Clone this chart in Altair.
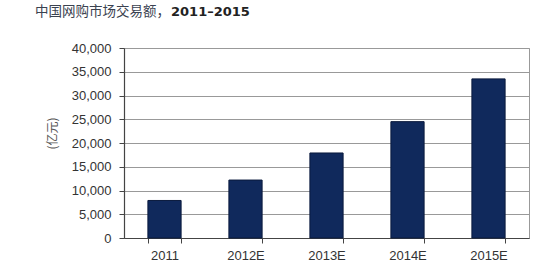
import altair as alt
import pandas as pd

years = ["2011", "2012E", "2013E", "2014E", "2015E"]
values = [7900, 12200, 17900, 24500, 33500]
y_ticks = [0, 5000, 10000, 15000, 20000, 25000, 30000, 35000, 40000]
title_cn = "中国网购市场交易额，"
title_years = "2011–2015"
y_title = "(亿元)"

df = pd.DataFrame({"year": years, "value": values})

W, H = 405, 190

bars = alt.Chart(df).mark_bar(
    color="#10295c", stroke="#0a1a3d", strokeWidth=1
).encode(
    x=alt.X("year:N", sort=years, title=None,
            scale=alt.Scale(paddingInner=0.59, paddingOuter=0.295),
            axis=alt.Axis(labelAngle=0, tickBand="extent", domainColor="#444",
                          tickColor="#444", tickSize=5, labelPadding=6,
                          labelFont="Liberation Sans", labelFontSize=13,
                          labelColor="#333", domainWidth=1.2)),
    y=alt.Y("value:Q", title=y_title,
            scale=alt.Scale(domain=[0, 40000], nice=False),
            axis=alt.Axis(values=y_ticks, format=",d", grid=True, gridColor="#999",
                          gridWidth=1, domainColor="#444", tickColor="#444",
                          tickSize=5, labelPadding=8, domainWidth=1.2,
                          labelFont="Liberation Sans", labelFontSize=13,
                          labelColor="#333",
                          titleFont="Noto Sans CJK SC", titleFontSize=12,
                          titleFontWeight="normal", titleColor="#555",
                          titleX=-72, titleY=85, titleAngle=-90,
                          titleAlign="center", titleBaseline="middle")),
)

t1 = alt.Chart(pd.DataFrame({"t": [title_cn]})).mark_text(
    align="left", baseline="middle", font="Noto Sans CJK SC", fontSize=13.5,
    color="#3a4250"
).encode(x=alt.value(-89), y=alt.value(-36), text="t:N")

t2 = alt.Chart(pd.DataFrame({"t": [title_years]})).mark_text(
    align="left", baseline="middle", font="DejaVu Sans", fontSize=13,
    fontWeight="bold", color="#222"
).encode(x=alt.value(47), y=alt.value(-36), text="t:N")

chart = alt.layer(bars, t1, t2).properties(
    width=W, height=H,
    autosize=alt.AutoSizeParams(type="none"),
    padding={"left": 124, "top": 48, "right": 25, "bottom": 35},
    background="white",
).configure_view(stroke="#999", strokeWidth=1)

chart.save("out.html", embed_options={"renderer": "svg", "actions": False})
